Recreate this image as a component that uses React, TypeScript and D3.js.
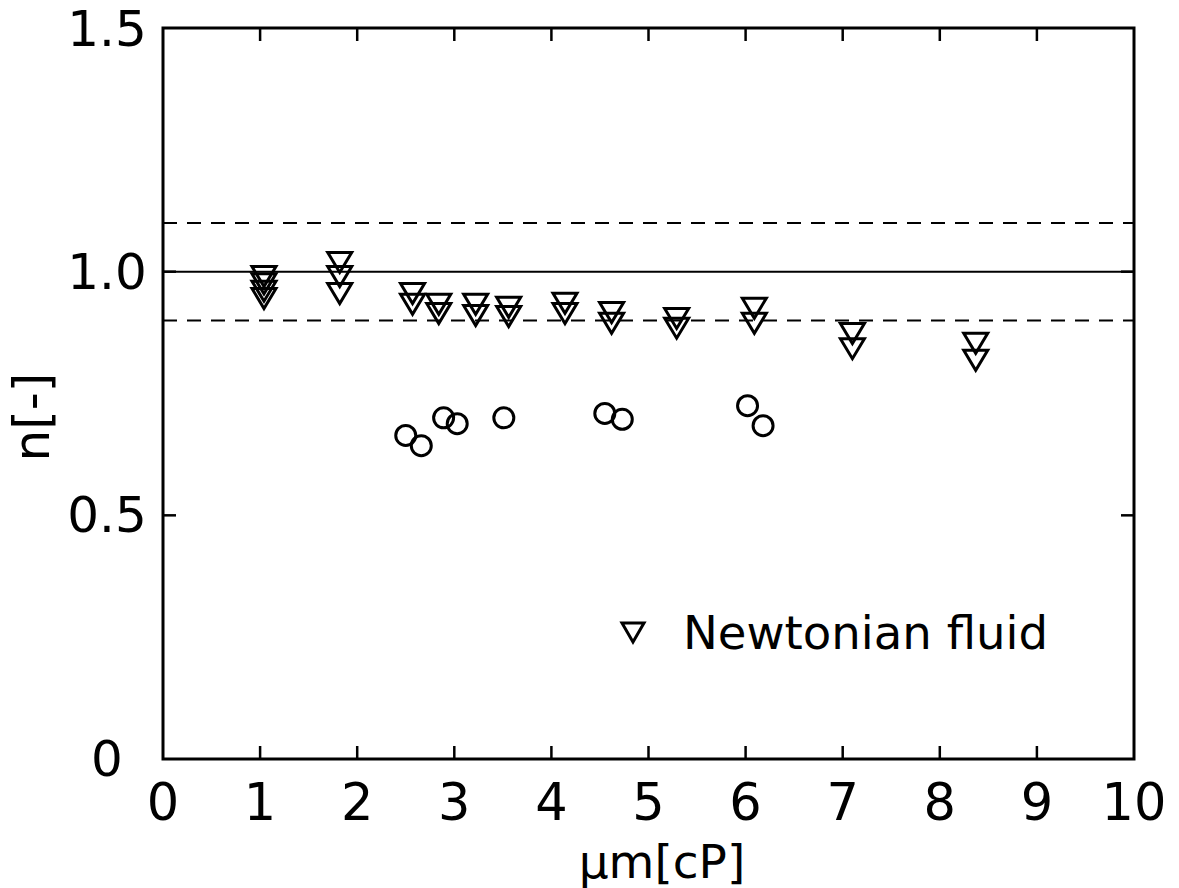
import React from "react";
import * as d3 from "d3";

// ---- data ----
const newtonianX = [1.04, 1.04, 1.04, 1.04, 1.82, 1.82, 1.82, 2.57, 2.57, 2.84, 2.84, 3.22, 3.22, 3.56, 3.56, 4.14, 4.14, 4.62, 4.62, 5.29, 5.29, 6.09, 6.09, 7.1, 7.1, 8.37, 8.37];
const newtonianY = [0.99, 0.975, 0.96, 0.945, 1.019, 0.99, 0.955, 0.955, 0.933, 0.933, 0.914, 0.933, 0.91, 0.927, 0.908, 0.935, 0.914, 0.916, 0.894, 0.904, 0.884, 0.925, 0.894, 0.873, 0.842, 0.853, 0.818];
const otherX = [2.5, 2.66, 2.89, 3.03, 3.51, 4.55, 4.73, 6.02, 6.18];
const otherY = [0.664, 0.643, 0.7, 0.688, 0.7, 0.709, 0.697, 0.725, 0.684];
const xTicks = [0, 1, 2, 3, 4, 5, 6, 7, 8, 9, 10];
const yTickValues = [0, 0.5, 1.0, 1.5];
const yTickLabels = ["0", "0.5", "1.0", "1.5"];
const ySideTicks = [0.5, 1.0];
const solidRef = [1.0];
const dashedRefs = [1.1, 0.9];
const legendLabel = "Newtonian fluid";
const xLabel = "\u03BCm[cP]";
const yLabel = "n[-]";

const W = 1179;
const H = 888;
const L = 163, R = 1134, T = 28, B = 759;
const FONT = "'DejaVu Sans', sans-serif";

export default function App() {
  const x = d3.scaleLinear().domain([0, 10]).range([L, R]);
  const y = d3.scaleLinear().domain([0, 1.5]).range([B, T]);
  const tri = "M-12,-10L12,-10L0,10Z";
  const tick = 13;

  return (
    <svg width={W} height={H} style={{ position: "absolute", left: 0, top: 0, background: "#fff" }}>
      {/* reference lines */}
      {solidRef.map((v) => (
        <line key={"s" + v} x1={L} x2={R} y1={y(v)} y2={y(v)} stroke="#000" strokeWidth={2} />
      ))}
      {dashedRefs.map((v) => (
        <line key={"d" + v} x1={L} x2={R} y1={y(v)} y2={y(v)} stroke="#000" strokeWidth={2} strokeDasharray="14,10" />
      ))}

      {/* frame */}
      <rect x={L} y={T} width={R - L} height={B - T} fill="none" stroke="#000" strokeWidth={3} />

      {/* ticks */}
      {xTicks.slice(1, -1).map((v) => (
        <g key={"xt" + v}>
          <line x1={x(v)} x2={x(v)} y1={B} y2={B - tick} stroke="#000" strokeWidth={2.5} />
          <line x1={x(v)} x2={x(v)} y1={T} y2={T + tick} stroke="#000" strokeWidth={2.5} />
        </g>
      ))}
      {ySideTicks.map((v) => (
        <g key={"yt" + v}>
          <line x1={L} x2={L + tick} y1={y(v)} y2={y(v)} stroke="#000" strokeWidth={2.5} />
          <line x1={R} x2={R - tick} y1={y(v)} y2={y(v)} stroke="#000" strokeWidth={2.5} />
        </g>
      ))}

      {/* tick labels */}
      {xTicks.map((v) => (
        <text key={"xl" + v} x={x(v)} y={820} textAnchor="middle" fontFamily={FONT} fontSize={51}>
          {v}
        </text>
      ))}
      {yTickValues.map((v, i) => (
        <text key={"yl" + v} x={107} y={Math.max(y(v) + 17, 46)} textAnchor="middle" fontFamily={FONT} fontSize={50}>
          {yTickLabels[i]}
        </text>
      ))}

      {/* axis titles */}
      <text x={662} y={878} textAnchor="middle" fontFamily={FONT} fontSize={47}>
        {xLabel}
      </text>
      <text
        transform={`translate(32,417) rotate(-90)`}
        textAnchor="middle"
        dominantBaseline="central"
        fontFamily={FONT}
        fontSize={50}
      >
        {yLabel}
      </text>

      {/* data */}
      {newtonianX.map((v, i) => (
        <path key={"n" + i} d={tri} transform={`translate(${x(v)},${y(newtonianY[i])})`} fill="none" stroke="#000" strokeWidth={3} strokeLinejoin="miter" />
      ))}
      {otherX.map((v, i) => (
        <circle key={"o" + i} cx={x(v)} cy={y(otherY[i])} r={10} fill="none" stroke="#000" strokeWidth={3} />
      ))}

      {/* legend */}
      <path d="M-11,-9L11,-9L0,10Z" transform="translate(633,632)" fill="none" stroke="#000" strokeWidth={3} />
      <text x={683} y={632} dominantBaseline="central" fontFamily={FONT} fontSize={47} textLength={365} lengthAdjust="spacingAndGlyphs">
        {legendLabel}
      </text>
    </svg>
  );
}
